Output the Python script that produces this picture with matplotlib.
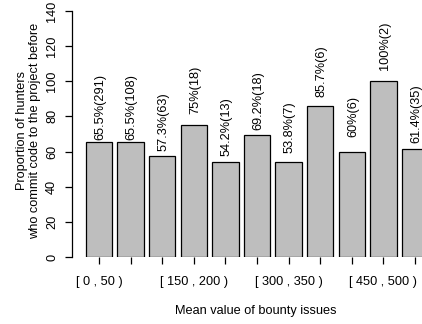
import matplotlib
matplotlib.use("Agg")
import matplotlib.pyplot as plt
import numpy as np

plt.rcParams['font.family'] = ['Liberation Sans', 'DejaVu Sans']

categories = ["[ 0 , 50 )", "[ 50 , 100 )", "[ 100 , 150 )", "[ 150 , 200 )",
              "[ 200 , 250 )", "[ 250 , 300 )", "[ 300 , 350 )", "[ 350 , 400 )",
              "[ 400 , 450 )", "[ 450 , 500 )", "[ 500 , 550 )"]
proportions = [65.5, 65.5, 57.3, 75.0, 54.2, 69.2, 53.8, 85.7, 60.0, 100.0, 61.4]
counts = [291, 108, 63, 18, 13, 18, 7, 6, 6, 2, 35]
pct_labels = ["65.5", "65.5", "57.3", "75", "54.2", "69.2", "53.8", "85.7", "60", "100", "61.4"]

W, H = 422, 324
fig = plt.figure(figsize=(W / 100, H / 100), dpi=100)
ax = fig.add_axes([72 / W, (H - 257) / H, 370 / W, 246 / H])

# R barplot geometry: width 1, space 0.2
x = 0.7 + 1.2 * np.arange(len(categories))
ax.bar(x, proportions, width=1.0, color="#bebebe", edgecolor="black", linewidth=0.9)

for xi, p, lab, n in zip(x, proportions, pct_labels, counts):
    ax.text(xi + 0.05, p + 20, f"{lab}%({n})", rotation=90, ha="center", va="center",
            fontsize=9.2)

ax.set_xlim(0.2 - 0.52, 13.2 + 0.52)
ax.set_ylim(0, 140)

for s in ["top", "right", "bottom"]:
    ax.spines[s].set_visible(False)
ax.spines["left"].set_bounds(0, 140)
ax.spines["left"].set_linewidth(0.9)

ax.set_yticks(range(0, 141, 20))
ax.set_yticklabels([str(v) for v in range(0, 141, 20)], rotation=90, va="center")
ax.tick_params(axis="y", length=7 * 0.72, width=0.9, pad=5, labelsize=9.2)

ax.set_xticks(x)
ax.set_xticklabels([c if i % 3 == 0 else "" for i, c in enumerate(categories)])
ax.tick_params(axis="x", length=7 * 0.72, width=0.9, pad=9, labelsize=9.2)

fig.text(256 / W, 1 - 311 / H, "Mean value of bounty issues", ha="center", va="center",
         fontsize=9.2)
fig.text(22 / W, 1 - 131 / H, "Proportion of hunters", rotation=90, ha="center",
         va="center", fontsize=9.2)
fig.text(35 / W, 1 - 131 / H, "who commit code to the project before", rotation=90,
         ha="center", va="center", fontsize=9.2)

fig.savefig("out.png", dpi=100)
